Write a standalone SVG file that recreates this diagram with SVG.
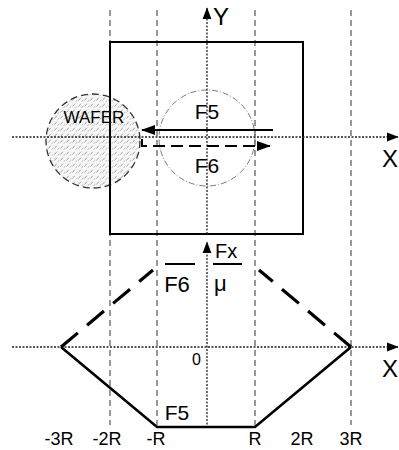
<svg xmlns="http://www.w3.org/2000/svg" width="399" height="450" viewBox="0 0 399 450">
<defs>
<marker id="ah" markerWidth="12" markerHeight="16" refX="15" refY="6" orient="auto" markerUnits="userSpaceOnUse" viewBox="0 0 16 12"><path d="M0,0 L16,6 L0,12 Z" fill="#000"/></marker>
<marker id="ahs" markerWidth="14" markerHeight="10" refX="13" refY="5" orient="auto" markerUnits="userSpaceOnUse"><path d="M0,0 L14,5 L0,10 Z" fill="#000"/></marker>
<pattern id="hatch" width="6" height="6" patternUnits="userSpaceOnUse">
<rect width="6" height="6" fill="#f7f7f7"/>
<path d="M0.5,4.5 L2.8,1.7" stroke="#8a8a8a" stroke-width="0.8"/>
<path d="M3.6,6 L5.4,3.8" stroke="#aaa" stroke-width="0.7"/>
</pattern>
<style>
.dv{stroke:#333;stroke-width:1;stroke-dasharray:6,4;fill:none}
.ax{stroke:#222;stroke-width:1.3;stroke-dasharray:2,1.5;fill:none}
.t{font-family:"Liberation Sans",Arial,sans-serif;fill:#000}
</style>
</defs>
<g id="guides">
<line class="dv" x1="110" y1="10" x2="110" y2="425"/>
<line class="dv" x1="157" y1="10" x2="157" y2="425"/>
<line class="dv" x1="255" y1="10" x2="255" y2="425"/>
<line class="dv" x1="351" y1="10" x2="351" y2="425"/>
</g>
<g id="wafer">
<circle cx="93" cy="141" r="47" fill="url(#hatch)" stroke="#333" stroke-width="1.3" stroke-dasharray="7,4"/>
<text class="t" x="94" y="123" font-size="17" text-anchor="middle">WAFER</text>
</g>
<g id="box">
<rect x="110" y="42" width="193" height="192" fill="none" stroke="#000" stroke-width="2"/>
</g>
<g id="tool-circle">
<circle cx="207" cy="138" r="48" fill="none" stroke="#555" stroke-width="0.8" stroke-dasharray="6,2,1,2"/>
</g>
<g id="axes">
<line class="ax" x1="12" y1="137" x2="398" y2="137" marker-end="url(#ah)"/>
<line class="ax" x1="207" y1="234" x2="207" y2="8" marker-end="url(#ah)"/>
<line class="ax" x1="12" y1="347" x2="398" y2="347" marker-end="url(#ah)"/>
<line class="ax" x1="207" y1="428" x2="207" y2="242" marker-end="url(#ah)"/>
<text class="t" x="382" y="167" font-size="24">X</text>
<text class="t" x="213" y="25" font-size="24">Y</text>
<text class="t" x="382" y="377" font-size="24">X</text>
<text class="t" x="215" y="258" font-size="20">Fx</text>
<text class="t" x="192" y="365" font-size="16">0</text>
</g>
<g id="connectors">
<line x1="273" y1="130" x2="142" y2="130" stroke="#000" stroke-width="2" marker-end="url(#ahs)"/>
<path d="M142,139 V146 H270" fill="none" stroke="#000" stroke-width="2" stroke-dasharray="12,6" marker-end="url(#ahs)"/>
<path d="M61,347 L153,270" fill="none" stroke="#000" stroke-width="3.2" stroke-dasharray="22,12"/>
<path d="M351,347 L259,270" fill="none" stroke="#000" stroke-width="3.2" stroke-dasharray="22,12"/>
<path d="M61,347 L157,427 L255,427 L351,347" fill="none" stroke="#000" stroke-width="2.6" stroke-linejoin="miter"/>
</g>
<g id="labels">
<text class="t" x="207" y="119" font-size="21" text-anchor="middle">F5</text>
<text class="t" x="207" y="173" font-size="21" text-anchor="middle">F6</text>
<line x1="165" y1="264" x2="195" y2="264" stroke="#000" stroke-width="2"/>
<text class="t" x="177" y="292" font-size="22" text-anchor="middle">F6</text>
<line x1="213" y1="264" x2="242" y2="264" stroke="#000" stroke-width="2"/>
<text class="t" x="214" y="291" font-size="22">μ</text>
<text class="t" x="177" y="420" font-size="21" text-anchor="middle">F5</text>
<text class="t" x="59" y="445" font-size="18" text-anchor="middle">-3R</text>
<text class="t" x="107" y="445" font-size="18" text-anchor="middle">-2R</text>
<text class="t" x="156" y="445" font-size="18" text-anchor="middle">-R</text>
<text class="t" x="255" y="445" font-size="18" text-anchor="middle">R</text>
<text class="t" x="302" y="445" font-size="18" text-anchor="middle">2R</text>
<text class="t" x="351" y="445" font-size="18" text-anchor="middle">3R</text>
</g>
</svg>
